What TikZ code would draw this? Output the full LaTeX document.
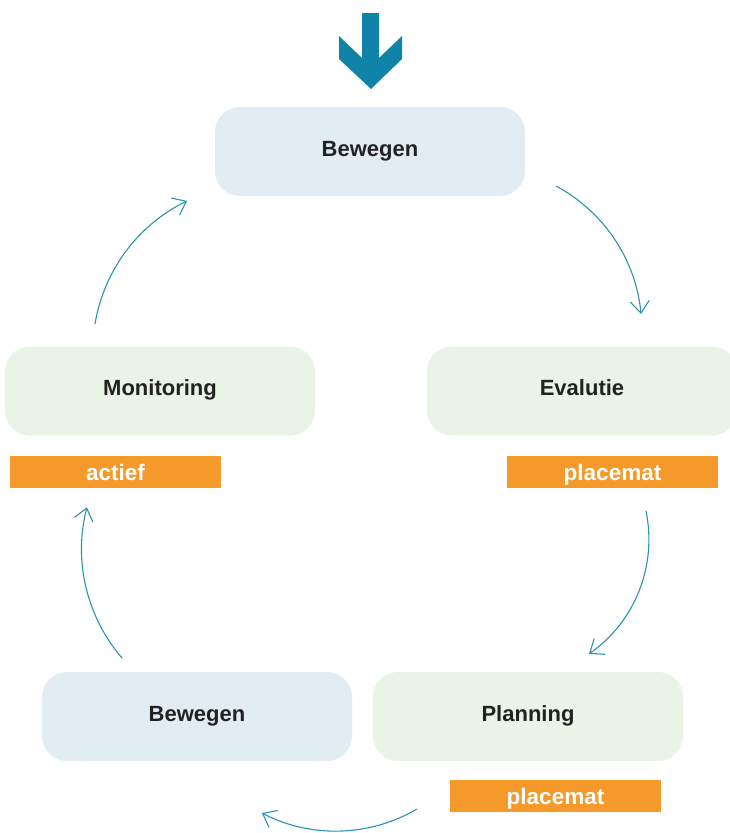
\documentclass[tikz,border=0pt]{standalone}
\usepackage{fontspec}
\setmainfont{Liberation Sans}
\usetikzlibrary{arrows.meta}
\definecolor{bigarrow}{HTML}{0F83A8}
\definecolor{thinarrow}{HTML}{2A92B5}
\definecolor{boxblue}{HTML}{E1ECF3}
\definecolor{boxgreen}{HTML}{E9F3E6}
\definecolor{tagorange}{HTML}{F59A2A}
\definecolor{textdark}{HTML}{222222}
\tikzset{
  stepbox/.style={rounded corners=25pt, minimum width=310pt, minimum height=89pt, inner sep=0pt,
    text height=16pt, text depth=7pt,
    font=\fontsize{22}{26}\selectfont\bfseries, text=textdark},
  bluebox/.style={stepbox, fill=boxblue},
  greenbox/.style={stepbox, fill=boxgreen},
  tagbox/.style={fill=tagorange, minimum width=211pt, minimum height=32pt, inner sep=0pt,
    text height=16pt, text depth=0pt,
    font=\fontsize{22.5}{26}\selectfont\bfseries, text=white},
  flow/.style={draw=thinarrow, line width=1.1pt, -{Straight Barb[length=12pt,width=19pt]}}
}
\begin{document}
\begin{tikzpicture}[x=1pt,y=1pt]
\useasboundingbox (0,0) rectangle (730,-833);
\clip (0,0) rectangle (730,-833);
% big entry arrow
\fill[bigarrow] (362,-13) -- (379,-13) -- (379,-58) -- (402,-36) -- (402,-59) -- (371,-89)
  -- (339,-59) -- (339,-36) -- (362,-58) -- cycle;
% boxes
\node[bluebox] (b1) at (370,-151.5) {Bewegen};
\node[greenbox] (mon) at (160,-391) {Monitoring};
\node[greenbox] (eva) at (582,-391) {Evalutie};
\node[bluebox] (b2) at (197,-716.5) {Bewegen};
\node[greenbox] (pla) at (528,-716.5) {Planning};
% tags
\node[tagbox] (t1) at (115.5,-472) {actief};
\node[tagbox] (t2) at (612.5,-472) {placemat};
\node[tagbox] (t3) at (555.5,-796) {placemat};
% connector start points (arcs of circles)
\coordinate (a1s) at (556,-186);
\coordinate (a2s) at (646,-511);
\coordinate (a3s) at (417,-809);
\coordinate (a4s) at (122,-658);
\coordinate (a5s) at (95,-324);
\draw[flow] (a1s) arc[start angle=61.8, end angle=5.4, radius=162.6];
\draw[flow] (a2s) arc[start angle=11.7, end angle=-55.2, radius=139.5];
\draw[flow] (a3s) arc[start angle=-59.6, end angle=-117.4, radius=160.5];
\draw[flow] (a4s) arc[start angle=-139.3, end angle=-194.5, radius=167];
\draw[flow] (a5s) arc[start angle=170.6, end angle=115.8, radius=167];
\end{tikzpicture}
\end{document}
